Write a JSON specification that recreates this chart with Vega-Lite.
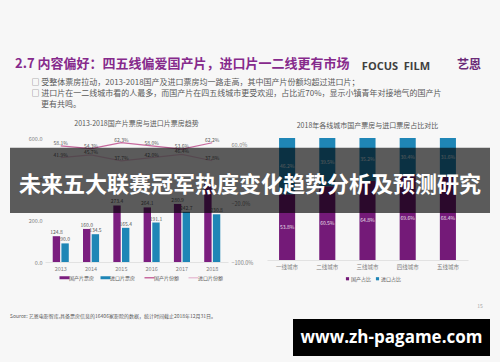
{
  "$schema": "https://vega.github.io/schema/vega-lite/v6.json",
  "background": "#f7f7f7",
  "padding": {"left": 10, "top": 58, "right": 10, "bottom": 10},
  "config": {
    "font": "Noto Sans CJK SC",
    "view": {"stroke": null},
    "axis": {"labelFont": "Noto Sans CJK SC", "labelFontSize": 5.5, "labelColor": "#7f7f7f", "grid": false, "ticks": false, "title": null},
    "legend": {"labelFont": "Noto Sans CJK SC", "labelColor": "#595959", "title": null}
  },
  "title": {"text": "艺恩", "anchor": "end", "dx": -9, "dy": 14, "offset": 0, "fontSize": 12, "fontWeight": "bold", "color": "#6b2a78"},
  "vconcat": [
    {
      "title": {"text": "FOCUS\u00a0\u00a0FILM", "anchor": "end", "dx": -60, "dy": 14, "offset": 0, "fontSize": 11, "fontWeight": "bold", "color": "#3f3f3f", "font": "Open Sans"},
      "vconcat": [
        {
          "title": {"text": ["2.7 内容偏好：四五线偏爱国产片，进口片一二线更有市场"], "anchor": "start", "dx": 5, "fontSize": 13, "fontWeight": "bold", "color": "#862a8c", "offset": 8},
          "vconcat": [
            {
              "title": {
                "text": ["□ 受整体票房拉动，2013-2018国产及进口票房均一路走高，其中国产片份额均超过进口片；", "□ 进口片在一二线城市看的人最多，而国产片在四五线城市更受欢迎，占比近70%，显示小镇青年对接地气的国产片"],
                "anchor": "start", "dx": 21.5, "fontSize": 8, "fontWeight": "normal", "color": "#595959", "lineHeight": 11, "offset": 3
              },
              "vconcat": [
                {
                  "title": {"text": ["更有共鸣。"], "anchor": "start", "dx": 31, "fontSize": 8, "fontWeight": "normal", "color": "#595959", "lineHeight": 11, "offset": 11},
                  "spacing": 0,
                  "vconcat": [
                    {
                      "title": {
                        "text": "Source: 艺恩电影智库,具备票房信息的16406家影院的数据，统计时间截止2018年12月31日。",
                        "orient": "bottom",
                        "anchor": "start",
                        "fontSize": 5,
                        "fontWeight": "normal",
                        "color": "#595959",
                        "offset": 5
                      },
                      "spacing": 39,
                      "bounds": "flush",
                      "resolve": {"scale": {"color": "independent"}, "legend": {"color": "independent"}},
                      "hconcat": [
                        {
                          "width": 183,
                          "height": 124,
                          "title": {"text": "2013-2018国产片票房与进口片票房趋势", "fontSize": 7, "fontWeight": "normal", "color": "#595959", "offset": 9},
                          "resolve": {"scale": {"y": "independent"}},
                          "layer": [
                            {
                              "data": {"values": [
                                {"year": "2013", "series": "国产片票房", "value": 124.8},
                                {"year": "2013", "series": "进口片票房", "value": 90.0},
                                {"year": "2014", "series": "国产片票房", "value": 160.0},
                                {"year": "2014", "series": "进口片票房", "value": 134.5},
                                {"year": "2015", "series": "国产片票房", "value": 273.4},
                                {"year": "2015", "series": "进口片票房", "value": 165.4},
                                {"year": "2016", "series": "国产片票房", "value": 264.1},
                                {"year": "2016", "series": "进口片票房", "value": 191.1},
                                {"year": "2017", "series": "国产片票房", "value": 280.9},
                                {"year": "2017", "series": "进口片票房", "value": 242.7},
                                {"year": "2018", "series": "国产片票房", "value": 379.0},
                                {"year": "2018", "series": "进口片票房", "value": 230.8}
                              ]},
                              "layer": [
                                {
                                  "mark": {"type": "bar"},
                                  "encoding": {
                                    "x": {"field": "year", "type": "ordinal", "scale": {"paddingInner": 0.47, "paddingOuter": 0.255},
                                      "axis": {"labelAngle": 0, "labelPadding": 4, "domain": true, "domainColor": "#d9d9d9", "domainWidth": 0.7}},
                                    "xOffset": {"field": "series", "scale": {"paddingInner": 0.15}},
                                    "y": {"field": "value", "type": "quantitative", "scale": {"domain": [0, 600], "nice": false},
                                      "axis": {"values": [0, 100, 200, 300, 400, 500, 600], "format": ".1f", "domain": false, "labelPadding": 3}},
                                    "color": {
                                      "field": "series", "type": "nominal",
                                      "scale": {"domain": ["国产片票房", "进口片票房", "国产片份额", "进口片份额"], "range": ["#7b1e7f", "#1f86b6", "#c86a9f", "#e8c3d7"]},
                                      "legend": {
                                        "orient": "none", "legendX": 17, "legendY": 137, "direction": "horizontal", "labelFontSize": 5, "symbolSize": 100,
                                        "columnPadding": 5, "labelOffset": 2,
                                        "encode": {"symbols": {"update": {
                                          "shape": {"signal": "indexof(['国产片份额','进口片份额'], datum.value) >= 0 ? 'stroke' : 'M-1,-0.3H1V0.3H-1Z'"},
                                          "fill": {"signal": "datum.value === '国产片票房' ? '#7b1e7f' : datum.value === '进口片票房' ? '#1f86b6' : datum.value === '国产片份额' ? '#c86a9f' : '#e8c3d7'"},
                                          "stroke": {"signal": "datum.value === '国产片票房' ? '#7b1e7f' : datum.value === '进口片票房' ? '#1f86b6' : datum.value === '国产片份额' ? '#c86a9f' : '#e8c3d7'"},
                                          "strokeWidth": {"signal": "indexof(['国产片份额','进口片份额'], datum.value) >= 0 ? 1.5 : 0"},
                                          "opacity": {"value": 1}
                                        }}}
                                      }
                                    }
                                  }
                                },
                                {
                                  "mark": {"type": "text", "dy": -4, "fontSize": 5, "color": "#595959"},
                                  "encoding": {
                                    "x": {"field": "year", "type": "ordinal"},
                                    "xOffset": {"field": "series"},
                                    "y": {"field": "value", "type": "quantitative"},
                                    "text": {"field": "value", "type": "quantitative", "format": ".1f"}
                                  }
                                }
                              ]
                            },
                            {
                              "data": {"values": [
                                {"year": "2013", "series": "国产片份额", "share": 0.581},
                                {"year": "2014", "series": "国产片份额", "share": 0.543},
                                {"year": "2015", "series": "国产片份额", "share": 0.623},
                                {"year": "2016", "series": "国产片份额", "share": 0.580},
                                {"year": "2017", "series": "国产片份额", "share": 0.536},
                                {"year": "2018", "series": "国产片份额", "share": 0.622},
                                {"year": "2013", "series": "进口片份额", "share": 0.419},
                                {"year": "2014", "series": "进口片份额", "share": 0.457},
                                {"year": "2015", "series": "进口片份额", "share": 0.377},
                                {"year": "2016", "series": "进口片份额", "share": 0.420},
                                {"year": "2017", "series": "进口片份额", "share": 0.464},
                                {"year": "2018", "series": "进口片份额", "share": 0.378}
                              ]},
                              "layer": [
                                {
                                  "mark": {"type": "line", "strokeWidth": 1.2},
                                  "encoding": {
                                    "x": {"field": "year", "type": "ordinal"},
                                    "y": {"field": "share", "type": "quantitative", "scale": {"domain": [-1, 0.687], "nice": false, "zero": false},
                                      "axis": {"orient": "right", "values": [-1, -0.8, -0.6, -0.4, -0.2, 0, 0.2, 0.4, 0.6], "format": ".1%", "domain": false, "labelPadding": 3}},
                                    "color": {"field": "series", "type": "nominal"}
                                  }
                                },
                                {
                                  "mark": {"type": "text", "dy": -3, "fontSize": 5, "color": "#595959"},
                                  "encoding": {
                                    "x": {"field": "year", "type": "ordinal"},
                                    "y": {"field": "share", "type": "quantitative"},
                                    "text": {"field": "share", "type": "quantitative", "format": ".1%"}
                                  }
                                }
                              ]
                            }
                          ]
                        },
                        {
                          "width": 201,
                          "height": 122,
                          "title": {"text": "2018年各线城市国产票房与进口票房占比对比", "fontSize": 7, "fontWeight": "normal", "color": "#595959", "offset": 9},
                          "layer": [
                            {
                              "data": {"values": [
                                {"city": "一线城市", "series": "国产占比", "value": 0.538},
                                {"city": "一线城市", "series": "进口占比", "value": 0.462},
                                {"city": "二线城市", "series": "国产占比", "value": 0.605},
                                {"city": "二线城市", "series": "进口占比", "value": 0.395},
                                {"city": "三线城市", "series": "国产占比", "value": 0.648},
                                {"city": "三线城市", "series": "进口占比", "value": 0.352},
                                {"city": "四线城市", "series": "国产占比", "value": 0.696},
                                {"city": "四线城市", "series": "进口占比", "value": 0.304},
                                {"city": "五线城市", "series": "国产占比", "value": 0.684},
                                {"city": "五线城市", "series": "进口占比", "value": 0.316}
                              ]},
                              "layer": [
                                {
                                  "transform": [
                                    {"stack": "value", "groupby": ["city"], "sort": [{"field": "series", "order": "ascending"}], "offset": "normalize", "as": ["v0", "v1"]}
                                  ],
                                  "mark": {"type": "bar"},
                                  "encoding": {
                                    "x": {"field": "city", "type": "nominal", "sort": ["一线城市", "二线城市", "三线城市", "四线城市", "五线城市"],
                                      "scale": {"paddingInner": 0.6, "paddingOuter": 0.3},
                                      "axis": {"labelAngle": 0, "labelPadding": 4, "domain": true, "domainColor": "#d9d9d9", "domainWidth": 0.7}},
                                    "y": {"field": "v0", "type": "quantitative", "axis": null},
                                    "y2": {"field": "v1"},
                                    "color": {"field": "series", "type": "nominal",
                                      "scale": {"domain": ["国产占比", "进口占比"], "range": ["#741a78", "#1f86b6"]},
                                      "legend": {"orient": "none", "legendX": 78, "legendY": 138, "direction": "horizontal", "labelFontSize": 5, "symbolType": "square", "symbolSize": 10, "columnPadding": 3, "labelOffset": 1}}
                                  }
                                },
                                {
                                  "mark": {"type": "text", "fontSize": 5, "color": "#ffffff", "opacity": 0.85},
                                  "encoding": {
                                    "x": {"field": "city", "type": "nominal", "sort": ["一线城市", "二线城市", "三线城市", "四线城市", "五线城市"]},
                                    "y": {"field": "value", "type": "quantitative", "stack": "normalize", "bandPosition": 0.5},
                                    "detail": {"field": "series"},
                                    "text": {"field": "value", "type": "quantitative", "format": ".1%"}
                                  }
                                }
                              ]
                            },
                            {
                              "data": {"values": [{"banner": "未来五大联赛冠军热度变化趋势分析及预测研究", "page": "15"}]},
                              "layer": [
                                {
                                  "mark": {"type": "text", "fontSize": 5, "color": "#a6a6a6"},
                                  "encoding": {"x": {"value": 213}, "y": {"value": 168}, "text": {"field": "page"}}
                                },
                                {
                                  "mark": {"type": "rect", "color": "#000000", "opacity": 0.63},
                                  "encoding": {"x": {"value": -257}, "x2": {"value": 223}, "y": {"datum": 0.92}, "y2": {"datum": 0.386}}
                                },
                                {
                                  "mark": {"type": "text", "fontSize": 22, "fontWeight": "bold", "color": "#ffffff"},
                                  "encoding": {"x": {"value": -17}, "y": {"datum": 0.616}, "text": {"field": "banner"}}
                                }
                              ]
                            }
                          ]
                        }
                      ]
                    },
                    {
                      "spacing": 0,
                      "bounds": "flush",
                      "hconcat": [
                        {"width": 248, "height": 37, "data": {"values": [{}]}, "mark": {"type": "point", "opacity": 0}},
                        {
                          "width": 197, "height": 37,
                          "view": {"fill": "#000000", "stroke": null},
                          "data": {"values": [{"site": "www.zh-pagame.com"}]},
                          "mark": {"type": "text", "fontSize": 17, "fontWeight": "bold", "color": "#ffffff", "font": "Open Sans"},
                          "encoding": {"text": {"field": "site"}}
                        }
                      ]
                    }
                  ]
                }
              ]
            }
          ]
        }
      ]
    }
  ]
}
